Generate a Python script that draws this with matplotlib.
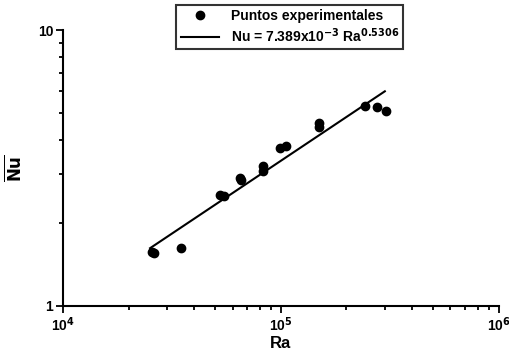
import matplotlib.pyplot as plt
from matplotlib.ticker import LogLocator, NullFormatter, FixedLocator

plt.rcParams['font.family'] = ['Liberation Sans', 'DejaVu Sans']
plt.rcParams['font.weight'] = 'bold'

# experimental points
ra = [25500, 26100, 34700, 52700, 55000, 64800, 65800, 82900, 82900,
      98900, 106000, 150000, 150000, 242700, 276500, 303000]
nu = [1.57, 1.556, 1.62, 2.52, 2.50, 2.92, 2.86, 3.21, 3.08,
      3.75, 3.80, 4.62, 4.45, 5.32, 5.25, 5.10]

# correlation line end points
fit_ra = [25100, 300000]
fit_nu = [1.62, 6.0]

xticks = [1e4, 1e5, 1e6]
xticklabels = [r'10$^{4}$', r'10$^{5}$', r'10$^{6}$']
yticks = [1, 10]
yticklabels = ['1', '10']

fig = plt.figure(figsize=(5.1, 3.54), dpi=100)
ax = fig.add_axes([0.1235, 0.1356, 0.8545, 0.7794])

pts, = ax.plot(ra, nu, 'o', color='black', markersize=6, linestyle='none')
fit, = ax.plot(fit_ra, fit_nu, '-', color='black', lw=1.5)

ax.set_xscale('log')
ax.set_yscale('log')
ax.set_xlim(1e4, 1e6)
ax.set_ylim(1, 10)

ax.xaxis.set_major_locator(FixedLocator(xticks))
ax.set_xticklabels(xticklabels, fontsize=10, fontweight='bold')
ax.yaxis.set_major_locator(FixedLocator(yticks))
ax.set_yticklabels(yticklabels, fontsize=10, fontweight='bold')
ax.xaxis.set_minor_locator(LogLocator(base=10, subs=range(2, 10)))
ax.yaxis.set_minor_locator(LogLocator(base=10, subs=range(2, 10)))
ax.xaxis.set_minor_formatter(NullFormatter())
ax.yaxis.set_minor_formatter(NullFormatter())
ax.tick_params(which='major', length=5, width=1.3, direction='out', pad=2)
ax.tick_params(which='minor', length=3, width=1.3, direction='out')

for s in ['top', 'right']:
    ax.spines[s].set_visible(False)
for s in ['left', 'bottom']:
    ax.spines[s].set_linewidth(1.5)

ax.set_xlabel('Ra', fontsize=12, fontweight='bold', labelpad=1)
ax.set_ylabel(r'$\overline{\mathbf{Nu}}$', fontsize=12)
ax.yaxis.set_label_coords(-0.09, 0.5)

leg = fig.legend([pts, fit],
                 ['Puntos experimentales',
                  r'Nu = 7.389x10$^{-3}$ Ra$^{0.5306}$'],
                 loc='upper center', bbox_to_anchor=(0.568, 1.005),
                 fontsize=10, frameon=True, fancybox=False,
                 edgecolor='black', handlelength=2.8,
                 borderpad=0.3, labelspacing=0.2)
leg.get_frame().set_linewidth(1.5)
for t in leg.get_texts():
    t.set_fontweight('bold')

fig.savefig('out.png', dpi=100, facecolor='white')
